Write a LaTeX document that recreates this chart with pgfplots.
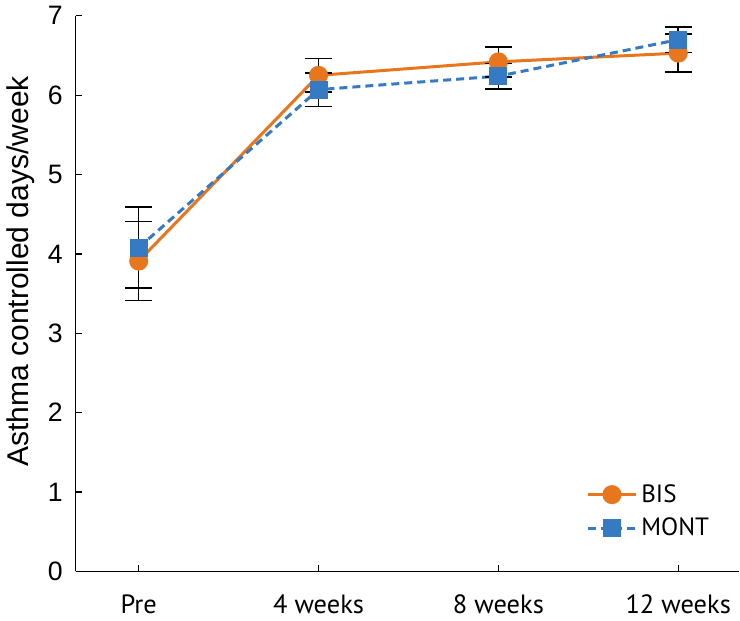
\documentclass[border=0pt]{standalone}
\usepackage{fontspec}
\setmainfont{Liberation Sans}
\newfontfamily\ptsans{PT Sans}
\usepackage{pgfplots}
\pgfplotsset{compat=1.18}
\definecolor{bisor}{RGB}{232,118,28}
\definecolor{montbl}{RGB}{55,122,196}
\begin{document}
\begin{tikzpicture}
\begin{axis}[
  scale only axis, width=331.5pt, height=277.5pt,
  xmin=-0.35, xmax=3.34, ymin=0, ymax=7,
  axis x line=bottom, axis y line=left,
  axis line style={-, line width=0.6pt},
  xtick={0,1,2,3}, xticklabels={Pre,4 weeks,8 weeks,12 weeks},
  ytick={0,1,2,3,4,5,6,7},
  tick align=inside, major tick length=3pt,
  tick style={black, line width=0.6pt},
  x tick label style={font=\ptsans\fontsize{13.2}{15}\selectfont, yshift=-8pt},
  y tick label style={font=\fontsize{13.3}{15}\selectfont, xshift=-3pt},
  /pgf/number format/assume math mode=true,
  ylabel={Asthma controlled days/week},
  every axis y label/.style={at={(axis description cs:-0.083,0.54)}, rotate=90, anchor=center, font=\fontsize{15}{17}\selectfont},
  legend style={draw=none, fill=none, at={(rel axis cs:0.76,0.172)}, anchor=north west,
    font=\ptsans\fontsize{12.5}{14}\selectfont, row sep=2.5pt, cells={anchor=west}},
  legend image code/.code={\draw[mark repeat=2,mark phase=2] plot coordinates {(0cm,0cm) (0.42cm,0cm) (0.84cm,0cm)};},
]
\addplot[bisor, line width=1.5pt, mark=*, mark size=4pt, mark options={solid, fill=bisor, draw=bisor}]
  coordinates {(0,3.91) (1,6.25) (2,6.42) (3,6.53)};
\addlegendentry{BIS}
\addplot[montbl, line width=1.5pt, dash pattern=on 4pt off 2.5pt, mark=square*, mark size=3.75pt, mark options={solid, fill=montbl, draw=montbl}]
  coordinates {(0,4.08) (1,6.07) (2,6.24) (3,6.70)};
\addlegendentry{MONT}
\addplot[draw=none, no markers, forget plot,
  error bars/.cd, y dir=both, y explicit,
  error bar style={draw=black, solid, line width=0.75pt},
  error mark options={rotate=90, mark size=6.7pt, draw=black, solid, line width=0.75pt}]
  coordinates {(0,3.91) +- (0,0.50) (1,6.25) +- (0,0.21) (2,6.42) +- (0,0.19) (3,6.53) +- (0,0.24)};
\addplot[draw=none, no markers, forget plot,
  error bars/.cd, y dir=both, y explicit,
  error bar style={draw=black, solid, line width=0.75pt},
  error mark options={rotate=90, mark size=6.7pt, draw=black, solid, line width=0.75pt}]
  coordinates {(0,4.08) +- (0,0.51) (1,6.07) +- (0,0.21) (2,6.24) +- (0,0.16) (3,6.70) +- (0,0.16)};
\end{axis}
\end{tikzpicture}
\end{document}
